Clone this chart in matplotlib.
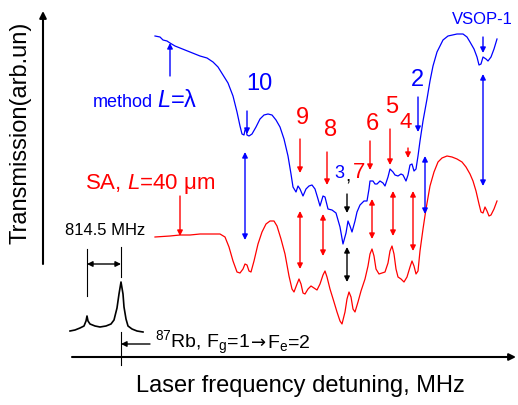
import numpy as np
import matplotlib
matplotlib.use('Agg')
import matplotlib.pyplot as plt

plt.rcParams['font.family'] = ['Liberation Sans', 'DejaVu Sans']
plt.rcParams['mathtext.fontset'] = 'custom'
plt.rcParams['mathtext.rm'] = 'Liberation Sans'
plt.rcParams['mathtext.it'] = 'Liberation Sans:italic'

# curves (x: detuning, y: screen units, top = 0)
blue_x = [155, 160, 163, 167, 170, 175, 180, 185, 190, 195, 200, 207, 213, 218, 223, 228, 233, 237,
          240, 242, 244, 245, 246, 247, 249, 252, 256, 260, 264, 268, 272, 276, 280, 284, 288, 291,
          293, 296, 298, 300, 303, 306, 309, 312, 315, 318, 320, 323, 325, 328, 332, 336, 340, 343,
          346, 348, 350, 352, 355, 357, 360, 364, 367, 369, 370, 373, 375, 377, 380, 383, 385, 388,
          390, 393, 395, 398, 401, 403, 406, 408, 410, 412, 414, 416, 418, 420, 423, 427, 430, 433,
          437, 443, 448, 457, 463, 467, 470, 474, 477, 479, 481, 483, 486, 488, 491, 494, 497]
blue_y = [37, 38, 41, 42, 44, 47, 49, 51, 53, 55, 57, 59, 63, 68, 76, 84, 97, 113,
          127, 135, 136, 131, 130, 136, 137, 135, 128, 120, 116, 115, 116, 121, 128, 140, 157, 175,
          188, 193, 187, 190, 197, 190, 187, 186, 190, 200, 207, 197, 198, 210, 211, 214, 228, 245,
          234, 222, 227, 233, 222, 213, 206, 202, 202, 190, 182, 182, 185, 185, 182, 184, 187, 178,
          170, 173, 176, 177, 175, 176, 182, 176, 166, 165, 172, 170, 157, 142, 122, 100, 82, 67,
          53, 41, 37, 35, 35, 38, 43, 50, 58, 66, 65, 58, 60, 62, 58, 50, 40]

red_x = [155, 170, 180, 190, 200, 210, 220, 225, 229, 233, 237, 240, 243, 245, 247, 249, 251, 254,
         258, 262, 266, 270, 274, 277, 281, 285, 289, 292, 294, 297, 299, 301, 303, 305, 308, 311,
         314, 317, 320, 323, 325, 327, 330, 334, 337, 340, 342, 345, 347, 349, 351, 353, 355, 358,
         361, 365, 368, 370, 372, 374, 376, 379, 382, 385, 388, 390, 392, 394, 396, 398, 401, 404,
         407, 410, 412, 414, 416, 418, 420, 423, 426, 430, 434, 438, 442, 447, 452, 457, 462, 466,
         470, 473, 476, 479, 481, 483, 485, 487, 489, 491, 494, 497]
red_y = [238, 237, 236, 236, 235, 235, 235, 238, 248, 262, 273, 274, 270, 265, 266, 272, 273, 262,
         245, 233, 225, 222, 222, 227, 240, 255, 277, 290, 293, 285, 280, 285, 294, 295, 290, 287,
         289, 291, 285, 276, 272, 278, 290, 303, 313, 322, 325, 313, 300, 293, 298, 310, 313, 303,
         292, 280, 267, 255, 250, 257, 270, 275, 274, 273, 264, 252, 247, 255, 270, 278, 280, 283,
         278, 268, 262, 267, 275, 272, 252, 230, 210, 187, 173, 163, 159, 157, 158, 160, 163, 168,
         175, 182, 192, 205, 213, 214, 208, 212, 217, 216, 210, 202]

ref_x = [70, 75, 80, 84, 86, 87, 88, 90, 95, 100, 106, 111, 114, 117, 119, 121, 123, 124, 126, 128,
         132, 137, 143]
ref_y = [332, 331, 329, 327, 322, 317, 322, 325, 327, 328, 327, 325, 321, 309, 295, 283, 295, 308,
         320, 327, 330, 332, 333]

# down arrows: (x, y_start, y_end, color)
down_arrows = [(247, 112, 135, 'blue'), (418, 98, 133, 'blue'), (483, 38, 54, 'blue'),
               (300, 140, 174, 'red'), (327, 153, 186, 'red'), (370, 142, 171, 'red'),
               (390, 130, 166, 'red'), (408, 149, 159, 'red'), (180, 197, 237, 'red'),
               (347, 195, 214, 'black')]
up_arrows = [(170, 77, 44, 'blue')]
# double arrows between the two spectra
double_arrows = [(245, 153, 241, 'blue'), (425, 157, 215, 'blue'), (483, 75, 187, 'blue'),
                 (300, 212, 270, 'red'), (323, 215, 257, 'red'), (372, 200, 240, 'red'),
                 (393, 192, 237, 'red'), (413, 192, 252, 'red'), (347, 248, 283, 'black')]

peak_labels = [('10', 259, 84, 'blue', 17), ('2', 417, 80, 'blue', 17),
               ('9', 302, 118, 'red', 17), ('8', 331, 130, 'red', 17),
               ('6', 372, 124, 'red', 17), ('5', 392, 107, 'red', 17),
               ('4', 406, 123, 'red', 16), ('VSOP-1', 482, 20, 'blue', 12)]


def arrow(ax, x0, y0, x1, y1, color, style='-|>'):
    ax.annotate('', xy=(x1, y1), xytext=(x0, y0),
                arrowprops=dict(arrowstyle=style, color=color, lw=1.0,
                                mutation_scale=8, shrinkA=0, shrinkB=0))


def right_edge(fig, ax, t):
    bb = t.get_window_extent(renderer=fig.canvas.get_renderer())
    return ax.transData.inverted().transform((bb.x1, bb.y0))[0]


fig = plt.figure(figsize=(5.18, 4.06), dpi=100)
ax = fig.add_axes([0, 0, 1, 1])
ax.set_xlim(0, 518)
ax.set_ylim(406, 0)
ax.axis('off')

ax.plot(blue_x, blue_y, color='blue', lw=0.9)
ax.plot(red_x, red_y, color='red', lw=0.9)
ax.plot(ref_x, ref_y, color='black', lw=1.2)

# frame arrows
ax.annotate('', xy=(43, 12), xytext=(43, 265),
            arrowprops=dict(arrowstyle='-|>', color='black', lw=1.5, mutation_scale=10,
                            shrinkA=0, shrinkB=0))
ax.annotate('', xy=(516, 358), xytext=(72, 358),
            arrowprops=dict(arrowstyle='-|>', color='black', lw=1.5, mutation_scale=10,
                            shrinkA=0, shrinkB=0))

for x, y0, y1, c in down_arrows + up_arrows:
    arrow(ax, x, y0, x, y1, c)
for x, y0, y1, c in double_arrows:
    arrow(ax, x, y0, x, y1, c, style='<|-|>')

for s, x, y, c, fs in peak_labels:
    ax.text(x, y, s, color=c, fontsize=fs, ha='center', va='center')

ax.text(339, 174, '3', color='blue', fontsize=13, ha='center', va='center')
ax.text(348, 177, ',', color='black', fontsize=14, ha='center', va='center')
ax.text(359, 173, '7', color='red', fontsize=16, ha='center', va='center')

ax.text(153, 107, 'method', color='blue', fontsize=13, ha='right', va='baseline')
ax.text(157, 107, r'$L$=λ', color='blue', fontsize=17, ha='left', va='baseline')
ax.text(150, 189, r'SA, $L$=40 μm', color='red', fontsize=16, ha='center', va='baseline')

# reference spectrum markers
ax.plot([87, 87], [250, 297], color='black', lw=0.8)
ax.plot([121, 121], [248, 278], color='black', lw=0.8)
arrow(ax, 87, 265, 121, 265, 'black', style='<|-|>')
ax.text(105, 231, '814.5 MHz', fontsize=12, ha='center', va='center')
ax.plot([121, 121], [333, 366], color='black', lw=0.8)
arrow(ax, 150, 345, 121, 345, 'black')
t1 = ax.text(155, 348, r'$^{87}$Rb, F$_{\rm g}$=1', fontsize=14, ha='left', va='baseline')
x1 = right_edge(fig, ax, t1)
t2 = ax.text(x1 + 1, 348, '→', fontsize=13, ha='left', va='baseline', family='DejaVu Sans')
x2 = right_edge(fig, ax, t2)
ax.text(x2 + 1, 348, r'F$_{\rm e}$=2', fontsize=14, ha='left', va='baseline')

ax.text(300, 386, 'Laser frequency detuning, MHz', fontsize=17, ha='center', va='center')
ax.text(21, 133, 'Transmission(arb.un)', fontsize=17, ha='center', va='center', rotation=90)

fig.savefig('out.png', dpi=100)
